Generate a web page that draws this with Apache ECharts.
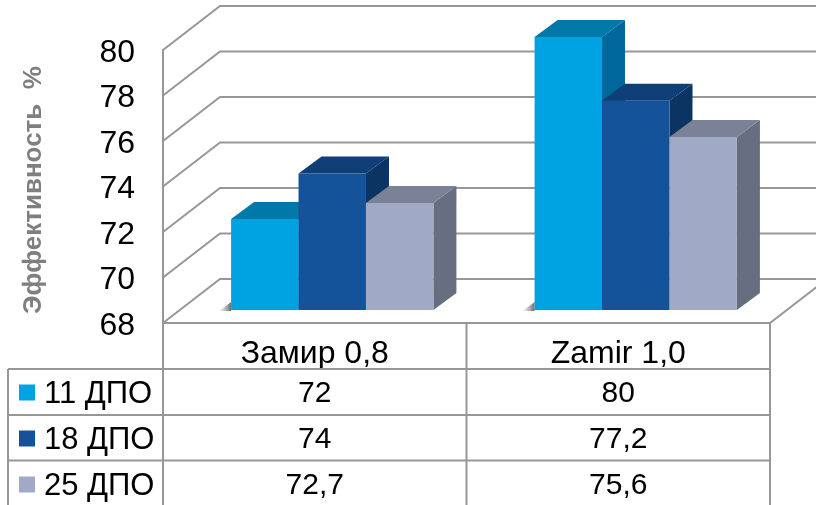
<!DOCTYPE html>
<html>
<head>
<meta charset="utf-8">
<style>html,body{margin:0;padding:0;background:#fff}#c{width:816px;height:505px}</style>
<script src="https://cdn.jsdelivr.net/npm/echarts@6/dist/echarts.min.js"></script>
</head>
<body>
<div id="c"></div>
<script>
const categories = ['Замир 0,8', 'Zamir 1,0'];
const seriesNames = ['11 ДПО', '18 ДПО', '25 ДПО'];
const values11 = [72, 80];
const values18 = [74, 77.2];
const values25 = [72.7, 75.6];
const yTicks = [68, 70, 72, 74, 76, 78, 80];
const axisTitle = 'Эффективность  %';

const FONT = '"Liberation Sans", Arial, sans-serif';
const GRID = '#979797';
const FRONTS = ['#00a3e1', '#14539a', '#a0aac6'];
const TOPS = ['#0079a9', '#103e76', '#7b8197'];
const SIDES = ['#00679a', '#0b3463', '#666e80'];
const WALL = [57, -44], BAR_PLANE = [17.5, -13], BAR_DEPTH = [23, -17];
const BAR_SHARE = 0.2222;
const TABLE = {left: 8, axis: 163, mid: 466.5, right: 770, rows: [369, 415, 460.5], top: 323, bottom: 505, textY: [394, 440, 486]};

const allValues = [values11, values18, values25];

function barSeries(idx) {
  return {
    name: seriesNames[idx],
    type: 'custom',
    z: 3 + idx,
    itemStyle: {color: FRONTS[idx]},
    data: allValues[idx].map((v, i) => [i, v]),
    encode: {x: 0, y: 1},
    renderItem(params, api) {
      const cat = api.value(0);
      const top = api.coord([cat, api.value(1)]);
      const base = api.coord([cat, yTicks[0]]);
      const w = api.size([1, 0])[0] * BAR_SHARE;
      const x0 = top[0] + BAR_PLANE[0] + (idx - 1.5) * w;
      const x1 = x0 + w;
      const yT = top[1] + BAR_PLANE[1];
      const yB = base[1] + BAR_PLANE[1];
      const dx = BAR_DEPTH[0], dy = BAR_DEPTH[1];
      const children = [];
      if (idx === 0) {
        children.push({
          type: 'polygon',
          shape: {points: [[x0 - 12, yB + 1], [x0, yB - 8], [x0, yB + 1]]},
          style: {fill: new echarts.graphic.LinearGradient(0, 0, 1, 0, [
            {offset: 0, color: 'rgba(150,150,150,0.1)'},
            {offset: 1, color: 'rgba(90,90,90,0.9)'}
          ])}
        });
      }
      children.push(
        {type: 'polygon', shape: {points: [[x1, yT], [x1 + dx, yT + dy], [x1 + dx, yB + dy], [x1, yB]]}, style: {fill: SIDES[idx]}},
        {type: 'polygon', shape: {points: [[x0, yT], [x0 + dx, yT + dy], [x1 + dx, yT + dy], [x1, yT]]}, style: {fill: TOPS[idx]}},
        {type: 'rect', shape: {x: x0, y: yT, width: w, height: yB - yT}, style: {fill: FRONTS[idx]}}
      );
      return {type: 'group', children};
    }
  };
}

const wallSeries = {
  type: 'custom',
  z: 1,
  silent: true,
  data: yTicks.map(v => [0, v]),
  encode: {x: 0, y: 1},
  renderItem(params, api) {
    const cs = params.coordSys;
    const y = api.coord([0, api.value(1)])[1];
    const lineStyle = {stroke: GRID, lineWidth: 2, fill: null};
    const children = [{
      type: 'polyline',
      shape: {points: [[cs.x, y], [cs.x + WALL[0], y + WALL[1]], [cs.x + cs.width + WALL[0], y + WALL[1]]]},
      style: lineStyle
    }];
    if (api.value(1) === yTicks[0]) {
      children.push({
        type: 'line',
        shape: {x1: cs.x + cs.width, y1: y, x2: cs.x + cs.width + WALL[0], y2: y + WALL[1]},
        style: lineStyle
      });
    }
    return {type: 'group', children};
  }
};

const tableData = [];
allValues.forEach((vals, row) => vals.forEach((v, i) => tableData.push([i, v, row])));
const tableSeries = {
  type: 'custom',
  z: 8,
  silent: true,
  data: tableData,
  encode: {x: 0, y: 1},
  renderItem(params, api) {
    const p = api.coord([api.value(0), api.value(1)]);
    return {
      type: 'text',
      style: {
        text: String(api.value(1)).replace('.', ','),
        x: p[0], y: TABLE.textY[api.value(2)],
        align: 'center', verticalAlign: 'middle',
        font: '30px ' + FONT, fill: '#000'
      }
    };
  }
};

function tableLine(x1, y1, x2, y2) {
  return {type: 'line', z: 6, shape: {x1, y1, x2, y2}, style: {stroke: GRID, lineWidth: 2}};
}

const chart = echarts.init(document.getElementById('c'), null, {renderer: 'canvas'});
chart.setOption({
  animation: false,
  backgroundColor: '#fff',
  textStyle: {fontFamily: FONT},
  grid: {left: 163, top: 50, width: 607, height: 273, containLabel: false},
  legend: {
    data: seriesNames,
    orient: 'vertical',
    left: 19, top: 379,
    padding: 0,
    itemWidth: 16, itemHeight: 16,
    itemGap: 15,
    icon: 'rect',
    selectedMode: false,
    formatter: name => '{a|' + name + '}',
    textStyle: {
      rich: {a: {fontSize: 31, color: '#000', fontFamily: FONT, padding: [4, 0, 0, 4]}}
    }
  },
  xAxis: {
    type: 'category',
    data: categories,
    axisLine: {show: true, lineStyle: {color: GRID, width: 2}},
    axisTick: {show: false},
    axisLabel: {fontSize: 32, color: '#000', margin: 15, fontFamily: FONT},
    splitLine: {show: false}
  },
  yAxis: {
    type: 'value',
    min: 68, max: 80, interval: 2,
    name: axisTitle,
    nameLocation: 'middle',
    nameRotate: 90,
    nameGap: 116,
    nameTextStyle: {fontSize: 26, fontWeight: 'bold', color: '#7f7f7f', fontFamily: FONT, padding: [0, 7, 0, 0]},
    axisLine: {show: true, lineStyle: {color: GRID, width: 2}},
    axisTick: {show: false},
    axisLabel: {
      margin: 28,
      formatter: v => '{a|' + v + '}',
      rich: {a: {fontSize: 32, color: '#000', fontFamily: FONT, padding: [6, 0, 0, 0]}}
    },
    splitLine: {show: false}
  },
  series: [wallSeries, barSeries(0), barSeries(1), barSeries(2), tableSeries],
  graphic: [
    tableLine(TABLE.axis, TABLE.top, TABLE.axis, TABLE.bottom),
    tableLine(TABLE.mid, TABLE.top, TABLE.mid, TABLE.bottom),
    tableLine(TABLE.right, TABLE.top, TABLE.right, TABLE.bottom),
    tableLine(TABLE.left, TABLE.rows[0], TABLE.left, TABLE.bottom),
    tableLine(TABLE.left, TABLE.rows[0], TABLE.right, TABLE.rows[0]),
    tableLine(TABLE.left, TABLE.rows[1], TABLE.right, TABLE.rows[1]),
    tableLine(TABLE.left, TABLE.rows[2], TABLE.right, TABLE.rows[2])
  ]
});
</script>
</body>
</html>
